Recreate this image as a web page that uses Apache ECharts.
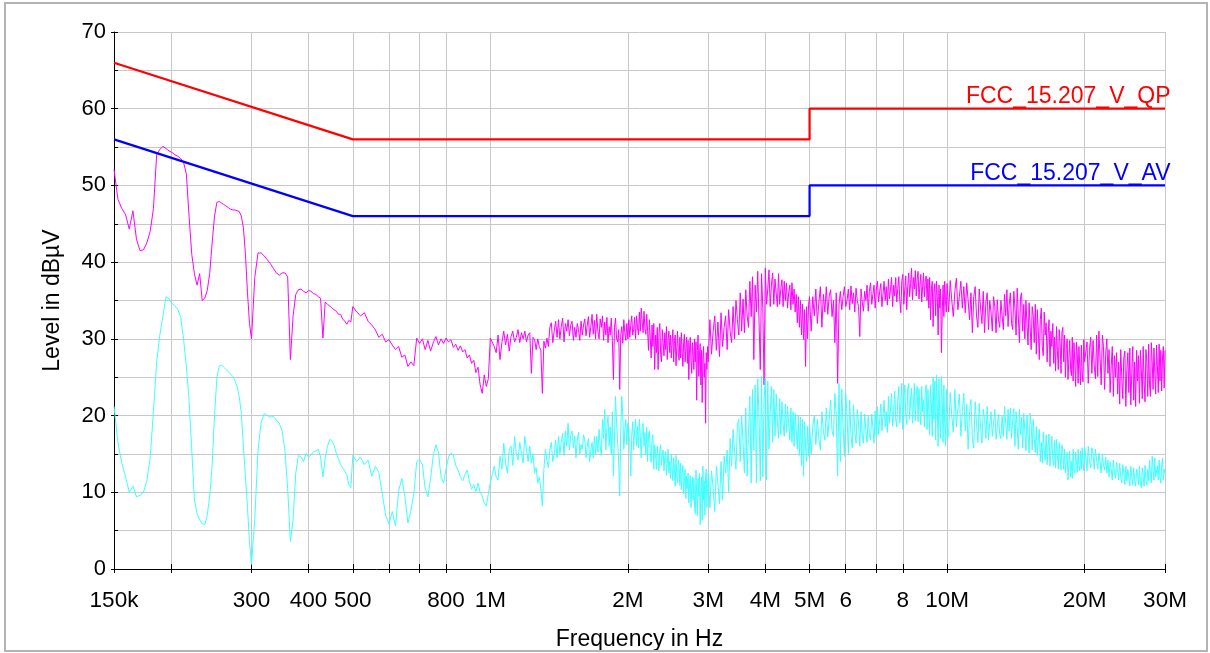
<!DOCTYPE html>
<html>
<head>
<meta charset="utf-8">
<script src="https://cdn.jsdelivr.net/npm/echarts@6.0.0/dist/echarts.min.js"></script>
<style>
html,body{margin:0;padding:0;background:#fff;}
#c{width:1210px;height:653px;}
</style>
</head>
<body>
<div id="c"></div>
<script>
// ---- axis ticks / labels ----
const xGridMHz = [0.15,0.2,0.3,0.4,0.5,0.6,0.7,0.8,1,2,3,4,5,6,7,8,10,20,30];
const xLabelMHz = [0.15,0.3,0.4,0.5,0.8,1,2,3,4,5,6,8,10,20,30];
const xLabelText = ['150k','300','400','500','800','1M','2M','3M','4M','5M','6','8','10M','20M','30M'];

// ---- limit lines ----
const limitFreq = [0.15,0.5,5,5,30];
const qpLimit = [66,56,56,60,60];
const avLimit = [56,46,46,50,50];

// ---- measured traces (frequency in MHz, level in dBµV) ----
const freqMHz = [
0.150,0.153,0.156,0.159,0.162,0.165,0.168,0.171,0.174,0.177,0.180,0.183,0.186,0.189,0.192,0.195,0.198,0.201,0.204,0.207,0.210,0.213,0.216,0.219,0.222,0.225,0.228,0.231,0.234,0.237,0.240,0.243,0.246,0.249,0.252,0.255,0.258,0.261,0.264,0.267,0.270,0.273,0.276,0.279,0.282,0.285,0.288,0.291,0.294,0.297,0.300,
0.305,0.310,0.315,0.320,0.325,0.330,0.335,0.340,0.345,0.350,0.355,0.360,0.365,0.370,0.375,0.380,0.385,0.390,0.395,0.400,0.405,0.410,0.415,0.420,0.425,0.430,0.435,0.440,0.445,0.450,0.455,0.460,0.465,0.470,0.475,0.480,0.485,0.490,0.495,0.500,
0.51,0.52,0.53,0.54,0.55,0.56,0.57,0.58,0.59,0.60,0.61,0.62,0.63,0.64,0.65,0.66,0.67,0.68,0.69,0.70,0.71,0.72,0.73,0.74,0.75,0.76,0.77,0.78,0.79,0.80,0.81,0.82,0.83,0.84,0.85,0.86,0.87,0.88,0.89,0.90,0.91,0.92,0.93,0.94,0.95,0.96,0.97,0.98,0.99,1.00,
1.01,1.02,1.03,1.04,1.05,1.06,1.07,1.08,1.09,1.10,1.11,1.12,1.13,1.14,1.15,1.16,1.17,1.18,1.19,1.20,1.21,1.22,1.23,1.24,1.25,1.26,1.27,1.28,1.29,1.30,1.31,1.32,1.33,1.34,1.35,1.36,1.37,1.38,1.39,1.40,1.41,1.42,1.43,1.44,1.45,1.46,1.47,1.48,1.49,1.50,
1.51,1.52,1.53,1.54,1.55,1.56,1.57,1.58,1.59,1.60,1.61,1.62,1.63,1.64,1.65,1.66,1.67,1.68,1.69,1.70,1.71,1.72,1.73,1.74,1.75,1.76,1.77,1.78,1.79,1.80,1.81,1.82,1.83,1.84,1.85,1.86,1.87,1.88,1.89,1.90,1.91,1.92,1.93,1.94,1.95,1.96,1.97,1.98,1.99,2.00,
2.01,2.02,2.03,2.04,2.05,2.06,2.07,2.08,2.09,2.10,2.11,2.12,2.13,2.14,2.15,2.16,2.17,2.18,2.19,2.20,2.21,2.22,2.23,2.24,2.25,2.26,2.27,2.28,2.29,2.30,2.31,2.32,2.33,2.34,2.35,2.36,2.37,2.38,2.39,2.40,2.41,2.42,2.43,2.44,2.45,2.46,2.47,2.48,2.49,2.50,
2.51,2.52,2.53,2.54,2.55,2.56,2.57,2.58,2.59,2.60,2.61,2.62,2.63,2.64,2.65,2.66,2.67,2.68,2.69,2.70,2.71,2.72,2.73,2.74,2.75,2.76,2.77,2.78,2.79,2.80,2.81,2.82,2.83,2.84,2.85,2.86,2.87,2.88,2.89,2.90,2.91,2.92,2.93,2.94,2.95,2.96,2.97,2.98,2.99,3.00,
3.025,3.05,3.075,3.1,3.125,3.15,3.175,3.2,3.225,3.25,3.275,3.3,3.325,3.35,3.375,3.4,3.425,3.45,3.475,3.5,3.525,3.55,3.575,3.6,3.625,3.65,3.675,3.7,3.725,3.75,3.775,3.8,3.825,3.85,3.875,3.9,3.925,3.95,3.975,4.0,
4.025,4.05,4.075,4.1,4.125,4.15,4.175,4.2,4.225,4.25,4.275,4.3,4.325,4.35,4.375,4.4,4.425,4.45,4.475,4.5,4.525,4.55,4.575,4.6,4.625,4.65,4.675,4.7,4.725,4.75,4.775,4.8,4.825,4.85,4.875,4.9,4.925,4.95,4.975,5.0,
5.04,5.08,5.12,5.16,5.20,5.24,5.28,5.32,5.36,5.40,5.44,5.48,5.52,5.56,5.60,5.64,5.68,5.72,5.76,5.80,5.84,5.88,5.92,5.96,6.00,6.04,6.08,6.12,6.16,6.20,6.24,6.28,6.32,6.36,6.40,6.44,6.48,6.52,6.56,6.60,
6.64,6.68,6.72,6.76,6.80,6.84,6.88,6.92,6.96,7.00,7.04,7.08,7.12,7.16,7.20,7.24,7.28,7.32,7.36,7.40,7.44,7.48,7.52,7.56,7.60,7.64,7.68,7.72,7.76,7.80,7.84,7.88,7.92,7.96,8.00,8.04,8.08,8.12,8.16,8.20,
8.24,8.28,8.32,8.36,8.40,8.44,8.48,8.52,8.56,8.60,8.64,8.68,8.72,8.76,8.80,8.84,8.88,8.92,8.96,9.00,9.04,9.08,9.12,9.16,9.20,9.24,9.28,9.32,9.36,9.40,9.44,9.48,9.52,9.56,9.60,9.64,9.68,9.72,9.76,9.80,
9.84,9.88,9.92,9.96,10.00,
10.08,10.16,10.24,10.32,10.40,10.48,10.56,10.64,10.72,10.80,10.88,10.96,11.04,11.12,11.20,11.28,11.36,11.44,11.52,11.60,11.68,11.76,11.84,11.92,12.00,12.08,12.16,12.24,12.32,12.40,
12.48,12.56,12.64,12.72,12.80,12.88,12.96,13.04,13.12,13.20,13.28,13.36,13.44,13.52,13.60,13.68,13.76,13.84,13.92,14.00,14.08,14.16,14.24,14.32,14.40,14.48,14.56,14.64,14.72,14.80,
14.88,14.96,15.04,15.12,15.20,15.28,15.36,15.44,15.52,15.60,15.68,15.76,15.84,15.92,16.00,16.08,16.16,16.24,16.32,16.40,16.48,16.56,16.64,16.72,16.80,16.88,16.96,17.04,17.12,17.20,
17.28,17.36,17.44,17.52,17.60,17.68,17.76,17.84,17.92,18.00,18.08,18.16,18.24,18.32,18.40,18.48,18.56,18.64,18.72,18.80,18.88,18.96,19.04,19.12,19.20,19.28,19.36,19.44,19.52,19.60,
19.68,19.76,19.84,19.92,20.00,
20.125,20.25,20.375,20.5,20.625,20.75,20.875,21.0,21.125,21.25,21.375,21.5,21.625,21.75,21.875,22.0,22.125,22.25,22.375,22.5,
22.625,22.75,22.875,23.0,23.125,23.25,23.375,23.5,23.625,23.75,23.875,24.0,24.125,24.25,24.375,24.5,24.625,24.75,24.875,25.0,
25.125,25.25,25.375,25.5,25.625,25.75,25.875,26.0,26.125,26.25,26.375,26.5,26.625,26.75,26.875,27.0,27.125,27.25,27.375,27.5,
27.625,27.75,27.875,28.0,28.125,28.25,28.375,28.5,28.625,28.75,28.875,29.0,29.125,29.25,29.375,29.5,29.625,29.75,29.875,30.0
];

const peakLevel = [
52.1,48.2,47.0,46.2,44.3,46.7,43.0,41.5,41.6,42.5,44.0,47.0,54.0,54.7,55.1,54.8,54.5,54.3,54.0,53.8,53.5,53.0,51.5,46.0,41.0,38.5,37.0,38.5,35.0,35.3,36.3,38.5,42.5,46.0,47.8,47.9,47.7,47.5,47.3,47.1,46.9,46.8,46.8,46.7,46.6,46.0,44.5,41.0,36.0,32.0,30.0,
38.0,41.2,41.2,40.8,40.3,39.8,39.2,38.6,38.3,38.6,38.6,38.1,27.3,33.0,35.8,36.4,36.5,36.2,36.0,36.3,36.2,35.9,35.8,35.5,35.3,30.1,34.8,34.5,34.3,34.0,33.8,33.6,33.2,33.2,32.6,32.3,31.9,32.4,32.2,34.2,
33.5,33.0,33.4,32.3,31.8,31.2,30.2,30.6,29.6,29.9,29.2,28.6,29.0,27.6,27.9,26.4,27.0,26.5,30.1,29.4,30.0,28.6,29.8,28.4,29.5,30.3,29.2,30.0,29.4,30.1,29.6,29.9,28.9,29.3,28.5,29.1,28.3,28.6,27.5,27.9,26.8,27.2,25.6,26.3,24.0,22.9,25.3,23.8,24.8,30.1,
30.1,29.0,28.2,30.5,27.3,29.5,31.0,29.2,30.6,28.4,30.3,31.0,29.6,30.2,31.2,29.5,30.8,30.0,31.0,29.6,30.5,30.8,25.5,30.2,29.9,28.6,30.0,29.0,28.5,22.9,29.7,28.8,30.1,29.0,31.5,32.1,29.5,31.0,32.3,30.2,32.5,30.0,31.6,32.7,29.6,32.0,31.0,32.5,30.4,31.8,
32.3,29.8,31.5,30.2,32.0,31.2,29.8,32.3,30.5,31.8,32.6,30.4,31.8,32.9,30.2,31.6,33.2,30.6,32.4,30.0,33.2,31.0,30.0,32.6,31.5,33.0,29.8,32.2,30.5,32.8,29.5,31.6,30.5,32.7,29.8,24.7,31.5,32.7,30.0,29.6,31.2,23.4,30.5,31.6,29.4,32.5,30.8,29.8,32.0,30.0,
32.5,30.2,31.8,33.0,30.5,31.2,32.8,30.0,33.0,31.5,30.5,33.5,31.0,34.0,32.2,30.8,33.6,31.4,30.6,33.2,31.0,28.5,32.5,30.0,27.5,31.8,29.0,32.0,26.0,30.5,28.2,31.5,26.0,30.8,32.0,28.0,27.0,31.2,29.5,27.8,30.8,28.6,31.6,27.3,29.8,31.0,28.2,30.5,27.5,29.5,
31.2,27.0,29.8,30.5,26.5,28.8,31.0,28.0,27.2,30.2,27.5,30.8,28.4,26.4,29.5,30.6,27.0,28.8,30.2,26.8,29.8,24.7,28.6,30.2,27.2,25.5,29.5,28.0,26.0,30.0,27.0,29.6,22.0,28.5,30.5,25.1,27.8,29.4,24.0,28.5,21.7,27.5,29.0,25.0,26.8,19.0,28.2,26.0,29.0,27.0,
32.5,28.0,31.0,33.0,28.5,32.2,27.7,33.4,29.0,31.5,33.0,28.6,33.8,31.0,29.5,34.2,30.0,35.0,32.5,30.5,36.0,31.0,35.2,30.8,36.4,33.0,31.5,37.5,32.9,38.1,27.3,37.0,33.5,38.8,39.0,26.0,38.5,34.0,24.0,39.2,
34.5,36.5,39.0,34.2,37.0,38.6,34.5,37.8,36.0,34.2,38.5,34.5,36.5,37.7,34.2,37.5,35.0,37.3,34.0,36.0,37.0,33.8,37.3,34.5,36.5,33.5,35.8,32.1,35.5,31.5,35.0,30.5,34.5,29.9,33.8,26.4,34.2,30.0,34.5,35.5,
31.0,35.5,33.0,36.5,32.0,34.8,36.8,31.5,35.8,33.5,36.8,33.2,35.6,36.4,32.9,35.0,29.5,36.0,24.2,34.5,36.2,33.8,35.5,36.8,34.2,35.0,36.5,33.8,36.9,34.6,36.0,33.5,36.6,35.0,34.2,30.3,36.5,34.8,33.6,36.2,
35.0,37.0,33.6,36.2,37.3,34.5,35.8,37.0,34.0,36.5,37.5,34.8,36.2,37.2,34.2,35.8,37.5,35.0,36.8,34.4,37.8,35.2,36.5,38.0,34.2,37.0,35.6,38.0,34.8,36.6,38.1,35.0,33.4,37.6,38.4,34.5,36.5,38.2,33.8,36.8,
38.6,35.5,37.2,39.2,35.1,38.0,36.5,38.9,35.6,37.8,38.8,35.2,37.0,38.4,34.8,36.8,38.6,35.5,37.5,38.2,35.0,37.8,34.0,38.0,32.5,36.5,37.5,31.6,36.0,37.2,33.0,37.5,35.5,30.5,37.0,34.0,36.5,28.2,33.5,37.0,
32.9,37.5,35.0,33.5,37.2,
33.5,37.6,35.0,32.9,36.2,37.9,33.8,35.5,37.5,34.0,36.8,33.4,37.3,35.0,32.5,36.0,30.8,35.5,36.8,33.0,31.5,36.5,34.0,32.0,36.2,30.8,34.8,36.0,31.2,35.0,
33.5,31.0,35.5,34.2,30.8,35.1,32.5,31.5,35.0,33.0,31.2,35.8,33.0,36.4,31.6,34.5,36.0,32.0,31.2,36.2,34.0,30.5,36.6,33.0,29.5,35.5,36.0,31.0,34.5,30.0,
35.0,32.0,29.2,34.7,31.5,28.6,34.2,33.0,29.5,34.5,28.0,33.8,31.0,27.3,32.5,34.0,29.0,27.8,33.5,30.5,32.1,27.0,30.5,32.5,26.4,31.0,29.0,32.0,26.8,30.2,
25.8,31.6,28.5,26.0,31.2,29.5,25.5,30.8,31.5,27.0,30.5,25.0,28.8,30.0,24.7,27.5,29.8,26.0,25.2,30.2,24.5,29.5,27.0,23.8,29.6,28.0,24.2,29.0,26.5,24.0,
29.2,25.5,24.4,29.9,27.0,
27.0,29.6,24.2,28.5,30.2,25.5,29.8,26.5,24.8,30.5,25.1,31.0,27.5,24.0,30.5,29.0,23.4,28.0,30.0,25.5,
28.6,23.0,26.5,29.0,22.5,27.8,25.0,28.2,22.8,27.0,21.5,28.6,25.0,22.2,27.5,28.4,21.2,26.0,28.2,23.0,
28.8,21.4,25.5,29.0,22.0,27.0,21.2,28.5,24.5,27.8,21.6,28.5,26.0,22.2,29.0,24.5,21.8,28.6,27.0,22.5,
29.3,24.0,22.5,29.5,27.0,23.4,28.8,25.5,22.8,29.2,26.5,23.0,29.3,24.5,28.5,23.2,27.5,29.0,23.6,28.5
];

const avgLevel = [
21.2,16.5,13.8,12.0,10.0,10.8,9.4,9.6,10.0,11.5,14.5,20.5,27.0,30.5,33.0,35.5,35.2,34.6,34.3,33.8,32.8,30.0,26.5,22.0,15.5,9.0,7.2,6.4,5.9,5.8,7.0,9.5,13.5,20.0,25.0,26.5,26.6,26.3,26.0,25.7,25.4,25.1,24.5,23.8,22.5,20.3,16.0,12.0,8.0,3.5,0.6,
6.5,15.5,19.2,20.3,20.0,19.8,19.9,19.4,19.0,18.0,15.5,10.5,3.6,6.5,12.5,14.8,14.6,14.0,15.1,14.6,14.9,15.3,15.4,15.6,14.6,12.0,14.5,16.0,16.9,16.7,16.1,15.1,14.4,13.6,13.2,12.8,12.3,11.0,10.6,14.8,
14.0,14.6,13.6,14.2,12.1,13.4,12.6,9.8,7.0,5.9,7.5,5.6,10.2,11.8,9.5,6.0,7.6,9.8,14.0,14.3,13.6,10.5,9.4,11.8,14.8,16.2,15.2,12.0,11.2,13.0,14.6,15.1,14.8,13.5,12.9,12.0,11.5,12.3,12.9,11.4,10.4,11.0,10.1,11.2,10.0,9.5,8.6,8.2,9.8,11.2,
11.2,13.4,12.0,11.6,14.7,13.0,16.4,13.8,12.5,15.5,16.0,13.5,17.3,15.0,14.2,16.5,15.1,13.8,17.3,15.5,14.0,16.0,13.8,15.0,12.5,13.2,11.2,12.0,10.5,8.2,13.0,15.6,14.2,13.2,15.6,16.5,14.0,15.0,16.8,14.5,17.3,15.0,16.5,17.7,14.8,18.0,16.0,19.0,15.5,17.5,
18.0,15.8,17.3,14.5,16.8,17.8,15.0,16.2,15.6,17.5,16.9,14.5,16.0,17.0,14.0,15.6,16.5,14.5,17.3,15.0,17.3,15.2,18.2,16.0,14.8,19.5,17.0,20.8,15.5,18.5,19.9,16.0,18.5,15.0,20.5,12.1,17.0,22.5,19.0,16.5,14.0,9.5,18.0,22.5,20.0,15.6,18.0,19.5,16.2,19.0,
19.0,16.5,12.1,17.5,19.2,15.5,18.0,19.5,16.0,18.6,15.8,19.5,17.2,14.5,18.6,19.0,16.0,17.8,14.8,18.5,14.0,17.5,18.0,15.0,13.9,16.8,17.5,13.0,16.2,15.0,13.0,16.0,14.5,12.8,15.6,16.2,13.5,14.8,15.5,12.8,14.6,15.3,12.2,13.8,15.6,12.5,14.0,11.8,15.0,13.2,
11.5,14.5,13.0,10.8,14.8,12.0,11.2,14.2,13.5,10.9,13.8,10.3,12.5,13.5,9.8,11.5,13.0,9.2,12.1,10.5,12.5,8.6,11.0,12.2,8.0,10.5,12.0,9.0,11.8,8.2,7.2,12.9,10.0,6.9,11.8,9.5,12.5,5.8,10.2,12.0,6.4,13.4,9.0,11.5,7.0,12.0,13.0,8.0,10.5,12.5,
8.0,12.8,10.5,7.5,13.4,11.0,8.5,14.0,9.0,14.7,12.5,15.5,10.0,17.0,13.4,18.2,15.5,13.0,18.8,19.5,14.0,20.0,16.5,12.5,21.0,12.1,18.0,22.5,11.2,23.4,15.5,24.0,11.2,24.8,20.0,11.5,25.1,12.0,22.0,24.9,
11.6,24.5,15.6,20.5,23.8,16.5,23.4,17.3,22.8,19.5,17.0,22.2,17.5,21.8,19.0,17.3,21.5,17.8,21.2,19.0,16.8,21.0,16.5,20.5,16.0,20.3,18.0,15.6,20.0,14.8,19.8,13.5,19.5,12.1,19.2,16.0,14.0,18.6,14.7,18.8,
15.0,18.5,20.0,16.2,19.5,17.0,15.5,20.5,18.0,16.8,21.0,17.2,19.5,22.0,18.0,17.3,22.9,20.0,12.1,24.2,14.0,23.5,18.5,14.7,22.9,20.0,15.0,22.0,17.5,15.8,21.4,18.0,16.4,20.8,19.0,16.0,20.5,17.5,16.4,20.2,
18.0,16.5,19.9,17.5,16.8,20.2,18.5,16.4,20.6,17.2,21.2,17.5,19.5,21.5,18.0,20.0,22.0,18.5,20.5,17.8,22.5,19.0,21.0,22.9,18.6,20.5,23.2,19.5,18.5,22.0,23.8,19.0,21.5,24.2,18.2,22.0,24.0,20.0,18.8,23.5,
24.2,19.5,22.0,23.6,19.0,21.5,24.2,19.3,22.8,23.8,19.2,23.5,21.0,18.8,23.8,20.5,22.0,18.5,23.2,24.0,18.2,23.4,20.5,17.5,24.0,21.5,17.3,25.0,19.5,24.5,16.8,25.3,21.0,16.0,24.8,19.5,17.0,25.1,22.0,16.5,
24.0,19.0,16.0,23.4,16.9,
17.5,23.0,20.0,17.8,23.4,18.5,21.0,22.8,17.3,20.5,22.9,18.0,21.5,15.6,20.5,22.1,17.0,15.8,21.8,19.0,16.5,21.6,18.5,16.4,20.8,19.5,17.0,21.2,16.8,19.0,
20.5,17.3,19.0,20.8,16.9,18.5,20.2,17.5,17.0,19.9,17.3,21.2,19.0,16.9,20.8,18.0,21.0,17.0,19.5,20.9,16.0,20.5,18.5,15.6,20.8,17.5,19.8,15.8,20.3,18.0,
15.4,20.0,17.5,15.1,20.3,18.8,15.5,19.5,17.0,15.2,18.6,14.8,17.0,18.2,14.0,16.5,13.8,17.9,15.5,14.2,17.5,13.6,16.0,17.6,13.4,15.5,17.3,14.2,13.5,16.8,
13.2,16.9,15.0,13.0,16.5,14.5,12.9,16.2,15.5,13.0,15.6,12.5,14.5,15.2,11.6,13.8,15.4,12.0,14.0,11.8,15.6,13.0,12.5,15.2,14.0,12.6,15.6,13.5,12.8,15.4,
13.0,15.8,14.0,12.8,16.0,
14.5,12.8,16.0,14.0,13.2,15.8,15.0,13.0,15.6,14.2,13.0,15.1,14.0,12.5,15.0,13.5,12.9,14.6,12.5,14.2,
12.0,14.0,13.0,11.6,14.2,12.5,11.8,13.9,12.8,11.6,13.8,12.0,11.2,13.6,12.5,11.0,13.4,11.5,13.0,12.0,
10.8,13.4,12.0,10.9,13.2,11.5,10.8,13.0,12.2,11.0,13.4,11.2,10.6,13.2,12.0,10.8,13.5,11.5,10.9,13.0,
11.5,14.2,12.5,11.2,14.7,13.0,11.6,14.5,12.0,11.8,13.5,11.6,14.2,12.0,11.2,13.6,14.5,11.6,13.0,12.5
];

const FONT = '"Liberation Sans", Arial, Helvetica, sans-serif';
const GRID_COLOR = '#c8c8c8';

function xLabelFormatter(v) {
  for (let i = 0; i < xLabelMHz.length; i++) {
    if (Math.abs(v - xLabelMHz[i]) < xLabelMHz[i] * 1e-6) return xLabelText[i];
  }
  return '';
}

function pairs(fs, vs) { return fs.map((f, i) => [f, vs[i]]); }

function limitSeries(name, levels, color, text) {
  const last = limitFreq.length - 1;
  return {
    name: name, type: 'line', xAxisIndex: 0, yAxisIndex: 0,
    data: pairs(limitFreq, levels),
    showSymbol: false, symbol: 'none', silent: true, z: 5,
    lineStyle: { color: color, width: 2.2 },
    markPoint: {
      symbol: 'circle', symbolSize: 1, silent: true,
      itemStyle: { color: 'rgba(0,0,0,0)' },
      label: {
        show: true, position: 'insideBottomRight', distance: 0, offset: [5, -1],
        formatter: text, color: color, fontSize: 23, fontFamily: FONT
      },
      data: [{ coord: [limitFreq[last], levels[last]] }]
    }
  };
}

const chart = echarts.init(document.getElementById('c'), null, { renderer: 'canvas' });
const option = {
  animation: false,
  backgroundColor: '#ffffff',
  grid: { left: 114, right: 45, top: 32, bottom: 84, containLabel: false, outerBoundsMode: 'none' },
  xAxis: [
    {
      type: 'log', logBase: 10, min: 0.15, max: 30, position: 'bottom',
      name: 'Frequency in Hz', nameLocation: 'middle', nameGap: 59,
      nameTextStyle: { fontFamily: FONT, fontSize: 23, color: '#000' },
      axisLine: { show: true, onZero: false, lineStyle: { color: '#000', width: 1 } },
      axisTick: { show: true, inside: true, length: 5, customValues: xGridMHz, lineStyle: { color: '#000' } },
      axisLabel: { show: true, customValues: xLabelMHz, formatter: xLabelFormatter, margin: 20,
                   fontFamily: FONT, fontSize: 22.5, color: '#000' },
      splitLine: { show: true, lineStyle: { color: GRID_COLOR, width: 1 } },
      minorTick: { show: false }, minorSplitLine: { show: false }
    },
    {
      type: 'log', logBase: 10, min: 0.15, max: 30, position: 'bottom', offset: 0,
      axisLine: { show: false, onZero: false },
      axisTick: { show: true, inside: false, length: 4, customValues: xGridMHz, lineStyle: { color: '#000' } },
      axisLabel: { show: false },
      splitLine: { show: false }
    }
  ],
  yAxis: [
    {
      type: 'value', min: 0, max: 70, interval: 5, position: 'left',
      name: 'Level in dBµV', nameLocation: 'middle', nameGap: 50, nameRotate: 90,
      nameTextStyle: { fontFamily: FONT, fontSize: 23, color: '#000' },
      axisLine: { show: true, onZero: false, lineStyle: { color: '#000', width: 1 } },
      axisTick: { show: true, inside: true, length: 4, lineStyle: { color: '#000' } },
      axisLabel: { show: false },
      splitLine: { show: true, lineStyle: { color: GRID_COLOR, width: 1 } }
    },
    {
      type: 'value', min: 0, max: 70, interval: 10, position: 'left', offset: 0,
      axisLine: { show: false, onZero: false },
      axisTick: { show: true, inside: false, length: 3, lineStyle: { color: '#000' } },
      axisLabel: { show: true, margin: 8, padding: [6, 0, 0, 0], fontFamily: FONT, fontSize: 22, color: '#000' },
      splitLine: { show: false }
    }
  ],
  series: [
    {
      name: 'Peak', type: 'line', xAxisIndex: 0, yAxisIndex: 0,
      data: pairs(freqMHz, peakLevel), showSymbol: false, symbol: 'none', silent: true, z: 3,
      lineStyle: { color: '#ff00ff', width: 1 }
    },
    {
      name: 'Average', type: 'line', xAxisIndex: 0, yAxisIndex: 0,
      data: pairs(freqMHz, avgLevel), showSymbol: false, symbol: 'none', silent: true, z: 3,
      lineStyle: { color: '#3cffff', width: 1 }
    },
    limitSeries('FCC_15.207_V_QP', qpLimit, '#ff0000', 'FCC_15.207_V_QP'),
    limitSeries('FCC_15.207_V_AV', avLimit, '#0000ff', 'FCC_15.207_V_AV')
  ],
  graphic: [{
    type: 'rect', silent: true, z: 100,
    shape: { x: 5, y: 3, width: 1202, height: 648 },
    style: { fill: 'none', stroke: '#b4b4b4', lineWidth: 2 }
  }]
};
chart.setOption(option);
</script>
</body>
</html>
